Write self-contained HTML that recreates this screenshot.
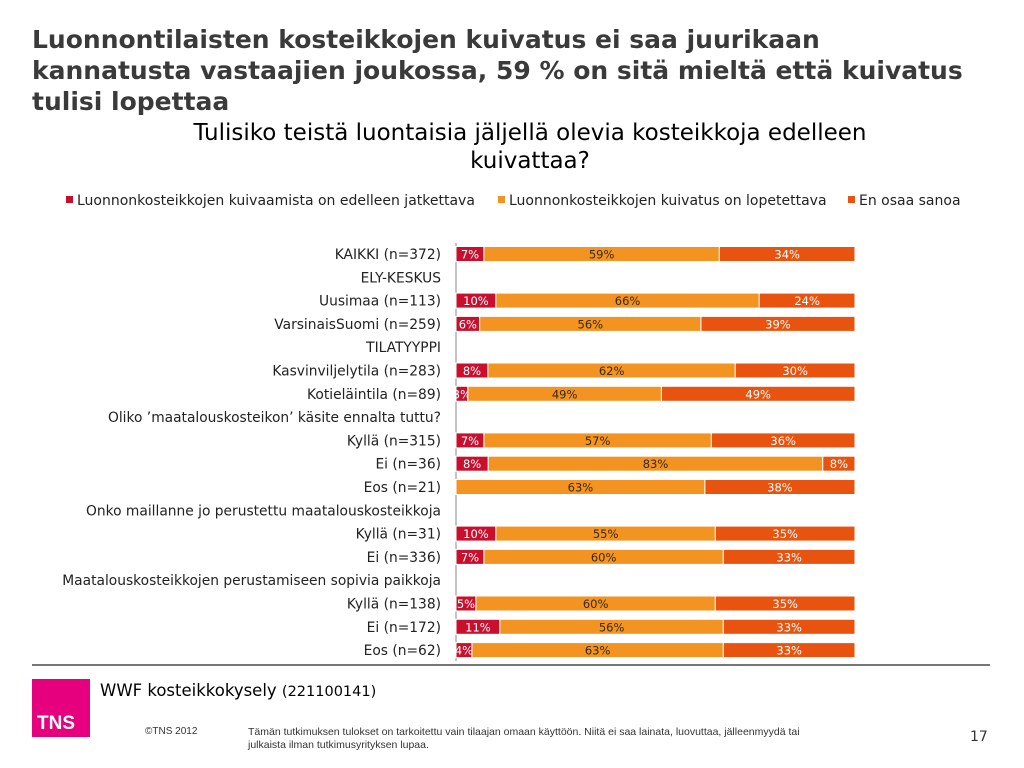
<!DOCTYPE html>
<html><head><meta charset="utf-8">
<style>
body{margin:0;width:1024px;height:768px;background:#fff;font-family:"DejaVu Sans",sans-serif;overflow:hidden;position:relative}
.t{position:absolute;left:32px;top:24px;font-size:25px;font-weight:bold;color:#3a3a3a;line-height:31px;white-space:nowrap}
.st{position:absolute;left:0;width:1060px;top:119px;text-align:center;font-size:23px;color:#000;line-height:28px}
</style></head><body>
<div class="t">Luonnontilaisten kosteikkojen kuivatus ei saa juurikaan<br>kannatusta vastaajien joukossa, 59 % on sitä mieltä että kuivatus<br>tulisi lopettaa</div>
<div class="st">Tulisiko teistä luontaisia jäljellä olevia kosteikkoja edelleen<br>kuivattaa?</div>
<svg id="c" width="1024" height="768" style="position:absolute;left:0;top:0"></svg>
<div style="position:absolute;left:32px;top:664px;width:958px;height:2px;background:#777"></div>
<div style="position:absolute;left:32px;top:679px;width:58px;height:58px;background:#e6007e;color:#fff;font-weight:bold;font-size:19px;font-family:'Liberation Sans',sans-serif"><span style="position:absolute;left:5px;bottom:2px">TNS</span></div>
<div style="position:absolute;left:100px;top:681px;font-size:16.5px">WWF kosteikkokysely <span style="font-size:14.5px">(221100141)</span></div>
<div style="position:absolute;left:145px;top:726px;font-size:10px;color:#333;font-family:'Liberation Sans',sans-serif">©TNS 2012</div>
<div style="position:absolute;left:248px;top:726px;font-size:10.5px;color:#333;line-height:13px;width:560px;font-family:'Liberation Sans',sans-serif">Tämän tutkimuksen tulokset on tarkoitettu vain tilaajan omaan käyttöön. Niitä ei saa  lainata, luovuttaa, jälleenmyydä tai julkaista ilman tutkimusyrityksen lupaa.</div>
<div style="position:absolute;left:970px;top:729px;font-size:14px;color:#333">17</div>
<script>
const categories=["KAIKKI (n=372)","ELY-KESKUS","Uusimaa (n=113)","VarsinaisSuomi (n=259)","TILATYYPPI","Kasvinviljelytila (n=283)","Kotieläintila (n=89)","Oliko ’maatalouskosteikon’ käsite ennalta tuttu?","Kyllä (n=315)","Ei (n=36)","Eos (n=21)","Onko maillanne jo perustettu maatalouskosteikkoja","Kyllä (n=31)","Ei (n=336)","Maatalouskosteikkojen perustamiseen sopivia paikkoja","Kyllä (n=138)","Ei (n=172)","Eos (n=62)"];
const continueVals=[7,null,10,6,null,8,3,null,7,8,0,null,10,7,null,5,11,4];
const stopVals=[59,null,66,56,null,62,49,null,57,83,63,null,55,60,null,60,56,63];
const dontKnowVals=[34,null,24,39,null,30,49,null,36,8,38,null,35,33,null,35,33,33];
const seriesNames=["Luonnonkosteikkojen kuivaamista on edelleen jatkettava","Luonnonkosteikkojen kuivatus on lopetettava","En osaa sanoa"];
const colors=["#c8102e","#f39322","#e8540f"];
const textCol=["#fff","#3a2a00","#fff"];
const svg=document.getElementById('c');const NS="http://www.w3.org/2000/svg";
const x0=456,x1=855,y0=254,step=23.3,bh=15;
const xs=v=>x0+(x1-x0)*v/100;const ys=i=>y0+i*step;
function mk(t,a){const e=document.createElementNS(NS,t);for(const k in a)e.setAttribute(k,a[k]);svg.appendChild(e);return e;}
const ax=mk('line',{x1:x0,x2:x0,y1:243,y2:661,stroke:'#888'});


categories.forEach((c,i)=>{
 const t=mk('text',{x:441,y:ys(i)+5,'text-anchor':'end','font-size':13.8,fill:'#222','font-family':'DejaVu Sans'});
 t.textContent=c;
 
 
 if(stopVals[i]==null)return;
 const vals=[continueVals[i],stopVals[i],dontKnowVals[i]];
 const tot=vals.reduce((a,b)=>a+b,0);let acc=0;
 vals.forEach((v,s)=>{
  const a=xs(acc/tot*100),b=xs((acc+v)/tot*100);acc+=v;
  if(v<=0)return;
  const r=mk('rect',{x:a,y:ys(i)-bh/2,width:b-a,height:bh,fill:colors[s],stroke:'#fff','stroke-width':1});
  
  
  const l=mk('text',{x:(a+b)/2,y:ys(i)+4.5,'text-anchor':'middle','font-size':11.5,fill:textCol[s],'font-family':'DejaVu Sans'});
  l.textContent=v+'%';
  
  
 });
});
let lx=[66,498,848];
seriesNames.forEach((n,s)=>{
 const r=mk('rect',{x:lx[s],y:196,width:7,height:7,fill:colors[s]});
 
 
 const t=mk('text',{x:lx[s]+11,y:205,'font-size':14,fill:'#222','font-family':'DejaVu Sans'});
 t.textContent=n;
 
 
});
</script>
</body></html>
